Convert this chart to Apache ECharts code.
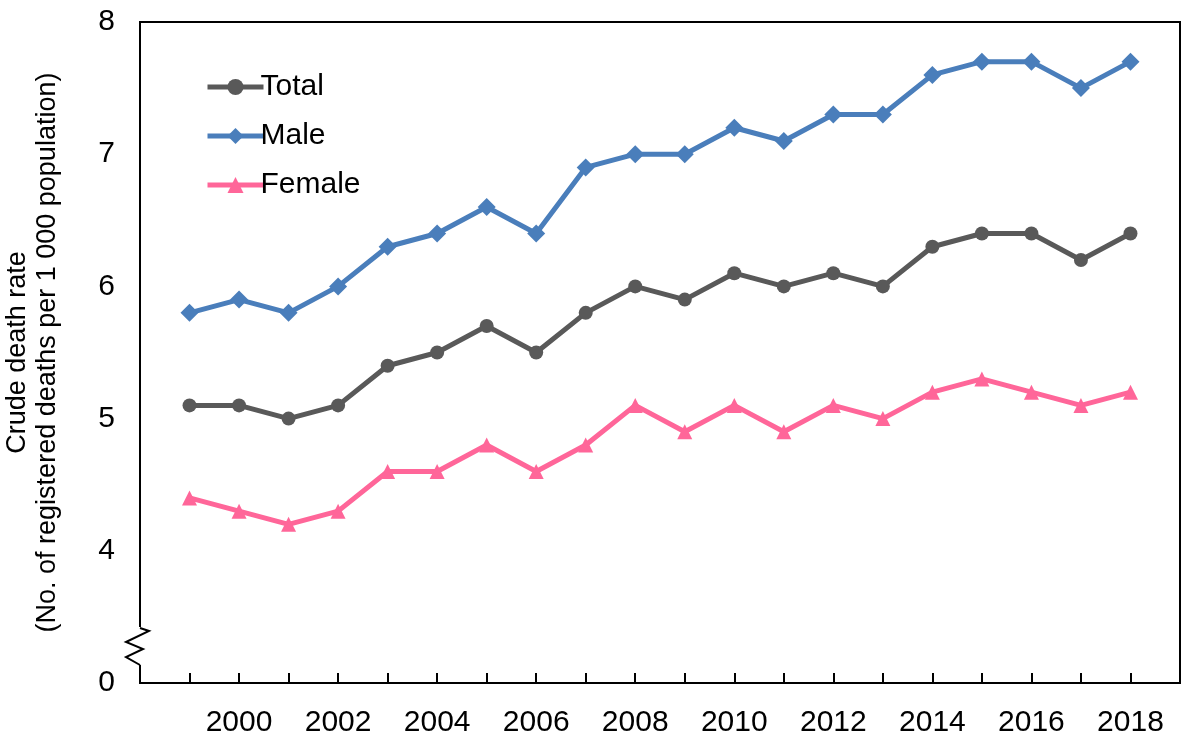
<!DOCTYPE html>
<html>
<head>
<meta charset="utf-8">
<script src="https://cdn.jsdelivr.net/npm/echarts@6/dist/echarts.min.js"></script>
<style>
  html, body { margin: 0; padding: 0; background: #fff; }
  #chart { width: 1184px; height: 753px; }
</style>
</head>
<body>
<div id="chart"></div>
<script>
const years = [1999, 2000, 2001, 2002, 2003, 2004, 2005, 2006, 2007, 2008,
  2009, 2010, 2011, 2012, 2013, 2014, 2015, 2016, 2017, 2018];
const total = [5.1, 5.1, 5.0, 5.1, 5.4, 5.5, 5.7, 5.5, 5.8, 6.0,
  5.9, 6.1, 6.0, 6.1, 6.0, 6.3, 6.4, 6.4, 6.2, 6.4];
const male = [5.8, 5.9, 5.8, 6.0, 6.3, 6.4, 6.6, 6.4, 6.9, 7.0,
  7.0, 7.2, 7.1, 7.3, 7.3, 7.6, 7.7, 7.7, 7.5, 7.7];
const female = [4.4, 4.3, 4.2, 4.3, 4.6, 4.6, 4.8, 4.6, 4.8, 5.1,
  4.9, 5.1, 4.9, 5.1, 5.0, 5.2, 5.3, 5.2, 5.1, 5.2];
// the axis is broken: the bottom tick stands for 0
const yTicks = [3, 4, 5, 6, 7, 8];
const yTickLabels = ['0', '4', '5', '6', '7', '8'];

const font = '"Liberation Sans", Arial, sans-serif';
const pairs = arr => years.map((y, i) => [y, arr[i]]);

const chart = echarts.init(document.getElementById('chart'));

const lineSeries = (name, data, color, symbol, size) => ({
  name,
  type: 'line',
  data: pairs(data),
  symbol,
  symbolSize: size,
  lineStyle: { color, width: 5 },
  itemStyle: { color },
  emphasis: { disabled: true },
  z: 3
});

chart.setOption({
  animation: false,
  textStyle: { fontFamily: font },
  grid: {
    left: 140, right: 4, top: 22, bottom: 70,
    outerBoundsMode: 'none',
    containLabel: false,
    show: true, borderColor: '#000', borderWidth: 2
  },
  legend: {
    orient: 'vertical',
    left: 200, top: 67,
    itemWidth: 56, itemHeight: 20, itemGap: 19,
    lineStyle: { width: 5 },
    textStyle: { fontSize: 30, color: '#000', fontFamily: font, padding: [0, 0, 0, -8] },
    data: ['Total', 'Male', 'Female']
  },
  xAxis: {
    type: 'value',
    min: 1998, max: 2019, interval: 1,
    splitLine: { show: false },
    axisLine: { lineStyle: { color: '#000', width: 2 } },
    axisTick: { inside: true, length: 10, lineStyle: { color: '#000', width: 2 } },
    axisLabel: {
      margin: 25, fontSize: 30, color: '#000', fontFamily: font,
      showMinLabel: false, showMaxLabel: false,
      formatter: v => (v % 2 === 0 && v >= 2000 && v <= 2018) ? String(v) : ''
    }
  },
  yAxis: {
    type: 'value',
    min: 3, max: 8, interval: 1,
    name: 'Crude death rate\n(No. of registered deaths per 1 000 population)',
    nameLocation: 'middle',
    nameGap: 77,
    nameTextStyle: { fontSize: 27, color: '#000', fontFamily: font, lineHeight: 30 },
    splitLine: { show: false },
    axisTick: { show: false },
    axisLine: { lineStyle: { color: '#000', width: 2 } },
    axisLabel: {
      margin: 25, fontSize: 30, color: '#000', fontFamily: font,
      formatter: v => yTickLabels[yTicks.indexOf(v)]
    }
  },
  series: [
    lineSeries('Total', total, '#595959', 'circle', 14),
    lineSeries('Male', male, '#4a7ebb', 'diamond', 18),
    lineSeries('Female', female, '#ff6699', 'triangle', 15)
  ]
});

// axis break marker on the y axis
const p0 = chart.convertToPixel({ xAxisIndex: 0, yAxisIndex: 0 }, [1998, 3]);
const x0 = p0[0], y0 = p0[1];
chart.setOption({
  graphic: [
    {
      type: 'rect', z: 100,
      shape: { x: x0 - 3, y: y0 - 56, width: 6, height: 38 },
      style: { fill: '#fff' }
    },
    {
      type: 'polyline', z: 101,
      shape: {
        points: [
          [x0, y0 - 55], [x0 + 9, y0 - 52], [x0 - 14, y0 - 41],
          [x0 + 3, y0 - 34], [x0 - 14, y0 - 26], [x0, y0 - 18]
        ]
      },
      style: { stroke: '#000', lineWidth: 2, fill: null }
    }
  ]
});
</script>
</body>
</html>
